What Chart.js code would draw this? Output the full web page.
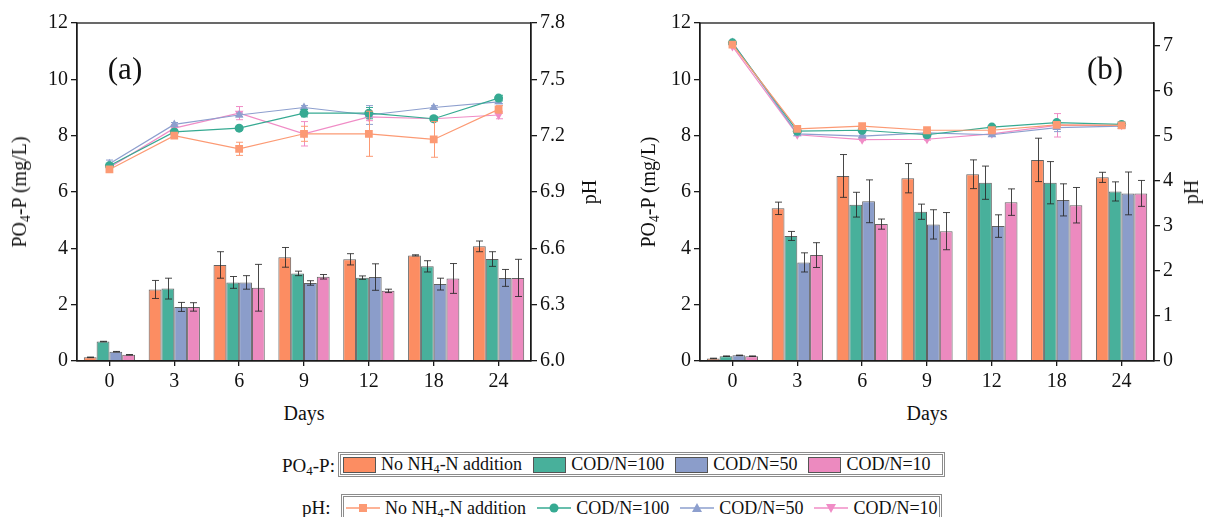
<!DOCTYPE html>
<html>
<head>
<meta charset="utf-8">
<script src="https://cdn.jsdelivr.net/npm/chart.js@4.4.1/dist/chart.umd.min.js"></script>
<style>
  html, body { margin: 0; padding: 0; background: #fff; }
  body { width: 1206px; height: 517px; position: relative; overflow: hidden;
         font-family: "Liberation Serif", "Times New Roman", serif; color: #111; }
  canvas { position: absolute; top: 0; }
  .lbl { position: absolute; white-space: nowrap; transform: translate(-50%, -50%); font-size: 20px; line-height: 1; }
  .rot { transform: translate(-50%, -50%) rotate(-90deg); }
  .panel { font-size: 31px; }
  sub { font-size: 0.68em; vertical-align: -0.28em; line-height: 0; }
  .lgd-title { position: absolute; font-size: 19px; line-height: 1; transform: translateY(-50%); white-space: nowrap; }
  .lgd { position: absolute; height: 19px; border: 3px double #8c8c8c; display: flex; align-items: center;
         font-size: 18px; padding-left: 2px; white-space: nowrap; }
  .sw { width: 31px; height: 14px; border: 1px solid #555; margin-right: 5px; }
  .item { display: flex; align-items: center; margin-right: 11px; }
  .ln { width: 34px; height: 14px; margin-right: 5px; }
</style>
</head>
<body>
<canvas id="chartA" width="603" height="400" style="left:0"></canvas>
<canvas id="chartB" width="603" height="400" style="left:603px"></canvas>

<div class="lbl panel" style="left:125px;top:68px">(a)</div>
<div class="lbl panel" style="left:1105px;top:68px">(b)</div>

<div class="lbl rot" style="left:19px;top:192px">PO<sub>4</sub>-P (mg/L)</div>
<div class="lbl rot" style="left:589px;top:192px">pH</div>
<div class="lbl rot" style="left:648px;top:192px">PO<sub>4</sub>-P (mg/L)</div>
<div class="lbl rot" style="left:1191px;top:192px">pH</div>
<div class="lbl" style="left:304px;top:413px">Days</div>
<div class="lbl" style="left:927px;top:413px">Days</div>

<div class="lgd-title" style="left:282px;top:465px">PO<sub>4</sub>-P:</div>
<div class="lgd" id="legendBars" style="left:338px;top:452px;width:599px"></div>
<div class="lgd-title" style="left:302px;top:507px">pH:</div>
<div class="lgd" id="legendLines" style="left:341px;top:494px;width:593px;height:22px"></div>

<script>
// categories
const days = ['0', '3', '6', '9', '12', '18', '24'];
const seriesNames = ['No NH4-N addition', 'COD/N=100', 'COD/N=50', 'COD/N=10'];

// colours
const barColors = ['#FC8D62', '#48B09B', '#8B9DCA', '#EC8ABF'];
const lineColors = ['#FC9A74', '#36AA92', '#8D9FCE', '#F08CC6'];
const markerStyles = ['rect', 'circle', 'triangle', 'triangle'];
const markerRotation = [0, 0, 0, 180];
const markerRadius = [5.5, 4.5, 5, 5];

// panel (a) PO4-P, mg/L
const aPO4NoN = [0.13, 2.54, 3.41, 3.68, 3.61, 3.75, 4.07];
const aPO4C100 = [0.69, 2.57, 2.79, 3.11, 2.96, 3.36, 3.62];
const aPO4C50 = [0.33, 1.92, 2.79, 2.77, 2.98, 2.73, 2.95];
const aPO4C10 = [0.22, 1.92, 2.60, 2.99, 2.49, 2.93, 2.95];
const aPO4ErrNoN = [0.01, 0.32, 0.47, 0.35, 0.20, 0.02, 0.19];
const aPO4ErrC100 = [0.01, 0.37, 0.21, 0.08, 0.06, 0.20, 0.26];
const aPO4ErrC50 = [0.01, 0.16, 0.24, 0.08, 0.47, 0.21, 0.30];
const aPO4ErrC10 = [0.01, 0.15, 0.83, 0.08, 0.06, 0.53, 0.66];

// panel (a) pH
const aPhNoN = [7.02, 7.20, 7.13, 7.21, 7.21, 7.18, 7.34];
const aPhC100 = [7.04, 7.22, 7.24, 7.32, 7.32, 7.29, 7.40];
const aPhC50 = [7.05, 7.26, 7.31, 7.35, 7.31, 7.35, 7.38];
const aPhC10 = [7.03, 7.24, 7.32, 7.21, 7.30, 7.29, 7.31];
const aPhErrNoN = [0.01, 0.01, 0.035, 0.04, 0.12, 0.095, 0.02];
const aPhErrC100 = [0.01, 0.01, 0.01, 0.02, 0.03, 0.01, 0.015];
const aPhErrC50 = [0.02, 0.01, 0.01, 0.01, 0.05, 0.01, 0.01];
const aPhErrC10 = [0.01, 0.02, 0.035, 0.065, 0.02, 0.01, 0.02];

// panel (b) PO4-P, mg/L
const bPO4NoN = [0.09, 5.42, 6.57, 6.49, 6.63, 7.14, 6.52];
const bPO4C100 = [0.17, 4.44, 5.55, 5.30, 6.33, 6.33, 6.02];
const bPO4C50 = [0.20, 3.50, 5.67, 4.85, 4.79, 5.72, 5.95];
const bPO4C10 = [0.17, 3.76, 4.86, 4.61, 5.64, 5.53, 5.95];
const bPO4ErrNoN = [0.01, 0.22, 0.76, 0.52, 0.51, 0.77, 0.18];
const bPO4ErrC100 = [0.01, 0.16, 0.44, 0.27, 0.59, 0.75, 0.34];
const bPO4ErrC50 = [0.01, 0.34, 0.76, 0.52, 0.40, 0.57, 0.76];
const bPO4ErrC10 = [0.01, 0.44, 0.18, 0.66, 0.47, 0.63, 0.46];

// panel (b) pH
const bPhNoN = [7.02, 5.15, 5.21, 5.12, 5.12, 5.24, 5.23];
const bPhC100 = [7.06, 5.10, 5.12, 5.02, 5.19, 5.29, 5.25];
const bPhC50 = [7.07, 5.04, 4.99, 5.06, 5.02, 5.18, 5.21];
const bPhC10 = [6.98, 5.02, 4.91, 4.92, 5.04, 5.23, 5.23];
const bPhErrNoN = [0.02, 0.02, 0.02, 0.02, 0.02, 0.04, 0.02];
const bPhErrC100 = [0.01, 0.01, 0.02, 0.01, 0.02, 0.05, 0.01];
const bPhErrC50 = [0.01, 0.02, 0.02, 0.02, 0.03, 0.09, 0.02];
const bPhErrC10 = [0.02, 0.02, 0.02, 0.02, 0.02, 0.26, 0.02];

// tick labels
const po4Ticks = [0, 2, 4, 6, 8, 10, 12];
const aPhTicks = [6.0, 6.3, 6.6, 6.9, 7.2, 7.5, 7.8];
const bPhTicks = [0, 1, 2, 3, 4, 5, 6, 7];

const FONT = '"Liberation Serif", "Times New Roman", serif';

// error bars drawn with the dataset's own scale
const errorBars = {
  id: 'errorBars',
  beforeDatasetDraw(chart, args) { if (chart.data.datasets[args.index].type === 'line') drawErr(chart, args); },
  afterDatasetDraw(chart, args) { if (chart.data.datasets[args.index].type !== 'line') drawErr(chart, args); }
};
function drawErr(chart, args) {
  const ds = chart.data.datasets[args.index];
  if (!ds.errors) return;
  const scale = chart.scales[args.meta.yAxisID];
  const ctx = chart.ctx;
  ctx.save();
  ctx.strokeStyle = ds.errorColor;
  ctx.lineWidth = 1;
  args.meta.data.forEach((el, j) => {
    const v = ds.data[j], e = ds.errors[j];
    if (e == null) return;
    const x = Math.round(el.x) + 0.5;
    const yt = scale.getPixelForValue(v + e), yb = scale.getPixelForValue(v - e);
    ctx.beginPath();
    ctx.moveTo(x, yt); ctx.lineTo(x, yb);
    ctx.moveTo(x - 3.5, yt); ctx.lineTo(x + 3.5, yt);
    ctx.moveTo(x - 3.5, yb); ctx.lineTo(x + 3.5, yb);
    ctx.stroke();
  });
  ctx.restore();
}

// box round the plot
const frame = {
  id: 'frame',
  afterDraw(chart) {
    const a = chart.chartArea, ctx = chart.ctx;
    ctx.save();
    ctx.strokeStyle = '#1a1a1a';
    ctx.lineWidth = 1.3;
    ctx.strokeRect(a.left, a.top, a.right - a.left, a.bottom - a.top);
    ctx.restore();
  }
};

function makePanel(id, po4, po4Err, ph, phErr, phMin, phMax, phTicks, phDigits, leftW, rightW) {
  const datasets = [];
  for (let i = 0; i < 4; i++) {
    datasets.push({
      type: 'bar', label: seriesNames[i], data: po4[i], errors: po4Err[i], errorColor: 'rgba(40,40,40,0.85)',
      backgroundColor: barColors[i], borderColor: 'rgba(70,70,70,0.85)', borderWidth: 1,
      yAxisID: 'y', order: 2, barPercentage: 1, categoryPercentage: 0.79
    });
  }
  for (let i = 0; i < 4; i++) {
    datasets.push({
      type: 'line', label: seriesNames[i], data: ph[i], errors: phErr[i], errorColor: lineColors[i],
      borderColor: lineColors[i], backgroundColor: lineColors[i], borderWidth: 1.2,
      pointStyle: markerStyles[i], pointRotation: markerRotation[i], pointRadius: markerRadius[i],
      pointBorderWidth: 0, tension: 0, yAxisID: 'y1', order: 1
    });
  }
  const tickFont = { family: FONT, size: 20 };
  return new Chart(document.getElementById(id), {
    type: 'bar',
    data: { labels: days, datasets: datasets },
    plugins: [errorBars, frame],
    options: {
      responsive: false,
      animation: false,
      layout: { autoPadding: false, padding: { top: 23, left: 0, right: 0, bottom: 0 } },
      plugins: { legend: { display: false }, tooltip: { enabled: false } },
      scales: {
        x: {
          offset: true,
          grid: { offset: false, drawOnChartArea: false, tickLength: 5, color: '#1a1a1a', lineWidth: 1.3 },
          border: { color: '#1a1a1a', width: 1.3 },
          ticks: { font: tickFont, color: '#111', padding: 4, maxRotation: 0 },
          afterFit: s => { s.height = 39; }
        },
        y: {
          position: 'left', min: 0, max: 12,
          grid: { drawOnChartArea: false, tickLength: 6, color: '#1a1a1a', lineWidth: 1.3 },
          border: { color: '#1a1a1a', width: 1.3 },
          ticks: { font: tickFont, color: '#111', padding: 3 },
          afterBuildTicks: s => { s.ticks = po4Ticks.map(v => ({ value: v })); },
          afterFit: s => { s.width = leftW; }
        },
        y1: {
          position: 'right', min: phMin, max: phMax,
          grid: { drawOnChartArea: false, tickLength: 6, color: '#1a1a1a', lineWidth: 1.3 },
          border: { color: '#1a1a1a', width: 1.3 },
          ticks: { font: tickFont, color: '#111', padding: 3, callback: v => Number(v).toFixed(phDigits) },
          afterBuildTicks: s => { s.ticks = phTicks.map(v => ({ value: v })); },
          afterFit: s => { s.width = rightW; }
        }
      }
    }
  });
}

makePanel('chartA',
  [aPO4NoN, aPO4C100, aPO4C50, aPO4C10], [aPO4ErrNoN, aPO4ErrC100, aPO4ErrC50, aPO4ErrC10],
  [aPhNoN, aPhC100, aPhC50, aPhC10], [aPhErrNoN, aPhErrC100, aPhErrC50, aPhErrC10],
  6.0, 7.8, aPhTicks, 1, 77, 72);

makePanel('chartB',
  [bPO4NoN, bPO4C100, bPO4C50, bPO4C10], [bPO4ErrNoN, bPO4ErrC100, bPO4ErrC50, bPO4ErrC10],
  [bPhNoN, bPhC100, bPhC50, bPhC10], [bPhErrNoN, bPhErrC100, bPhErrC50, bPhErrC10],
  0, 7.5, bPhTicks, 0, 97, 52);

// legends below the panels
function nameHtml(s) { return s.replace('NH4', 'NH<sub>4</sub>'); }
function markerSvg(i) {
  const c = lineColors[i];
  let m;
  if (markerStyles[i] === 'rect') m = `<rect x="13" y="3" width="8" height="8" fill="${c}"/>`;
  else if (markerStyles[i] === 'circle') m = `<circle cx="17" cy="7" r="4.5" fill="${c}"/>`;
  else if (markerRotation[i] === 0) m = `<polygon points="17,2 22,11 12,11" fill="${c}"/>`;
  else m = `<polygon points="17,12 22,3 12,3" fill="${c}"/>`;
  return `<svg class="ln" viewBox="0 0 34 14"><line x1="0" y1="7" x2="34" y2="7" stroke="${c}" stroke-width="1.3"/>${m}</svg>`;
}
document.getElementById('legendBars').innerHTML = seriesNames.map((n, i) =>
  `<div class="item"><div class="sw" style="background:${barColors[i]}"></div><span>${nameHtml(n)}</span></div>`).join('');
document.getElementById('legendLines').innerHTML = seriesNames.map((n, i) =>
  `<div class="item">${markerSvg(i)}<span>${nameHtml(n)}</span></div>`).join('');
</script>
</body>
</html>
